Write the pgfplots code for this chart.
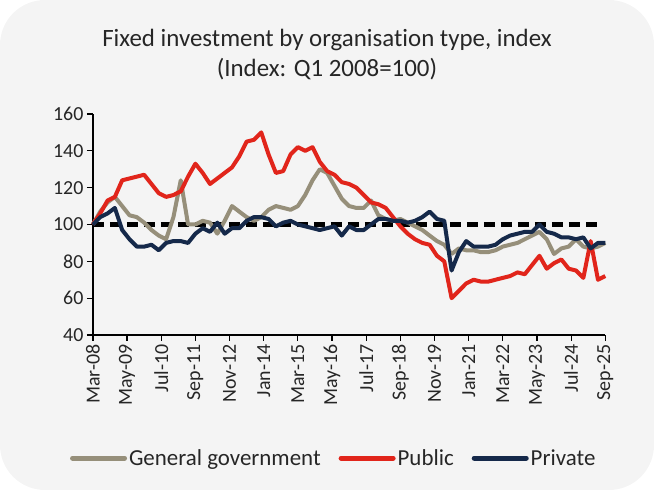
\documentclass[border=0pt]{standalone}
\usepackage{fontspec}
\setmainfont[Ligatures={NoCommon}]{Carlito}
\usepackage{pgfplots}
\usepackage{pgfplotstable}
\pgfplotsset{compat=1.18}
\definecolor{bgc}{HTML}{F4F4F4}
\definecolor{ggray}{HTML}{968F7A}
\definecolor{pubred}{HTML}{E1251B}
\definecolor{privblue}{HTML}{15294A}

% month index from Mar-08 (quarterly points), general government, public, private
\pgfplotstableread{
m   gg   pub  priv
0   100  100  100
3   107  106  104
6   112  113  106
9   115  115  109
12  110  124  97
15  105  125  92
18  104  126  88
21  101  127  88
24  97   122  89
27  94   117  86
30  92   115  90
33  104  116  91
36  124  118  91
39  100  126  90
42  100  133  95
45  102  128  98
48  101  122  96
51  95   125  101
54  102  128  95
57  110  131  98
60  107  137  98
63  104  145  102
66  102  146  104
69  104  150  104
72  108  138  103
75  110  128  99
78  109  129  101
81  108  138  102
84  110  142  100
87  116  140  99
90  124  142  98
93  130  134  97
96  128  129  98
99  121  127  99
102 114  123  94
105 110  122  99
108 109  120  97
111 109  116  97
114 113  112  100
117 105  111  103
120 103  109  103
123 102  104  102
126 103  99   102
129 101  95   101
132 99   92   102
135 97   90   104
138 94   89   107
141 91   83   103
144 89   80   102
147 84   60   75
150 87   64   85
153 86   68   91
156 86   70   88
159 85   69   88
162 85   69   88
165 86   70   89
168 88   71   92
171 89   72   94
174 90   74   95
177 92   73   96
180 94   78   96
183 96   83   100
186 92   76   96
189 84   79   95
192 87   81   93
195 88   76   93
198 92   75   92
201 88   71   93
204 87   91   87
207 88   70   90
210 90   72   90
}\invest

\begin{document}
\begin{tikzpicture}
\fill[bgc, rounded corners=45bp] (0bp,0bp) rectangle (654bp,490bp);
\node[align=center, font=\fontsize{25}{30}\selectfont, text=black!85] at (327bp,435bp)
  {Fixed investment by organisation type, index\\(Index: Q1 2008=100)};
\begin{axis}[
  at={(92.9bp,155bp)}, anchor=south west,
  scale only axis, width=512.4bp, height=221bp,
  xmin=0, xmax=210, ymin=40, ymax=160,
  axis x line*=bottom, axis y line*=left,
  axis line style={-, line width=1.2bp},
  major tick style={line width=1.2bp, black},
  tick align=outside, major tick length=6bp,
  xtick={0,14,...,210},
  xticklabels={Mar-08,May-09,Jul-10,Sep-11,Nov-12,Jan-14,Mar-15,May-16,Jul-17,Sep-18,Nov-19,Jan-21,Mar-22,May-23,Jul-24,Sep-25},
  x tick label style={rotate=90, anchor=east},
  ytick={40,60,...,160},
  tick label style={font=\fontsize{20}{24}\selectfont, text=black!85},
  /pgf/number format/assume math mode=true,
  clip=false,
  legend columns=3,
  legend style={draw=none, fill=none, at={(0.47,-0.557)}, anchor=center,
    font=\fontsize{23}{27}\selectfont, text=black!85,
    /tikz/every even column/.append style={column sep=16bp}},
  legend image code/.code={\draw[#1, line width=5bp, line cap=round] (0bp,0bp) -- (52bp,0bp);},
  every axis plot/.append style={line width=4bp, line join=round},
]
\addplot[black, line width=4.5bp, dash pattern=on 11bp off 6bp, forget plot] coordinates {(0,100) (207,100)};
\addplot[ggray] table[x=m, y=gg] {\invest};
\addlegendentry{General government}
\addplot[pubred] table[x=m, y=pub] {\invest};
\addlegendentry{Public}
\addplot[privblue] table[x=m, y=priv] {\invest};
\addlegendentry{Private}
\end{axis}
\end{tikzpicture}
\end{document}
